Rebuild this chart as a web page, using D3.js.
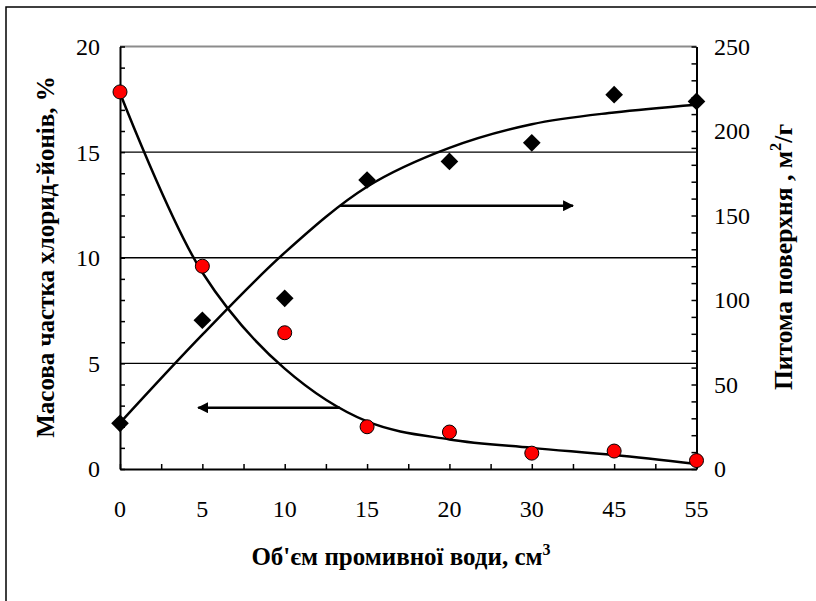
<!DOCTYPE html>
<html>
<head>
<meta charset="utf-8">
<script src="https://cdn.jsdelivr.net/npm/d3@7"></script>
<style>
  html, body { margin: 0; padding: 0; background: #fff; }
  svg { display: block; }
</style>
</head>
<body>
<svg id="chart" width="816" height="601"></svg>
<script>
// ---- data ----
const categories = ["0", "5", "10", "15", "20", "30", "45", "55"];
const chlorideValues = [17.85, 9.6, 6.45, 2.0, 1.75, 0.75, 0.85, 0.4];      // left axis, %
const surfaceValues = [27, 88, 101, 171, 182, 193, 221.5, 217.5];           // right axis, m2/g
const chlorideTrend = [17.8, 9.3, 4.75, 2.25, 1.4, 1.0, 0.66, 0.24];
const surfaceTrend = [27.3, 79.5, 128, 167, 190, 204, 211, 215.6];
const leftTicks = [0, 5, 10, 15, 20];
const rightTicks = [0, 50, 100, 150, 200, 250];
const gridValues = [5, 10, 15];
// arrows: [from index, to index, value]
const arrowLeft = [2.67, 0.95, 2.9];      // on left axis
const arrowRight = [2.67, 5.5, 155.8];    // on right axis

const leftTitle = "Масова частка хлорид-йонів, %";
const rightTitle = "Питома поверхня , м";
const xTitle = "Об'єм промивної води, см";

const FONT = "'Liberation Serif'";

// ---- layout ----
const svg = d3.select("#chart");
const L = 120, R = 696.5, T = 46.5, B = 469;

svg.append("rect").attr("x", 6).attr("y", 7).attr("width", 830).attr("height", 620)
  .attr("fill", "#fff").attr("stroke", "#000").attr("stroke-width", 1.5);

const x = d3.scalePoint().domain(categories).range([L, R]);
const xi = d3.scaleLinear().domain([0, categories.length - 1]).range([L, R]);
const yL = d3.scaleLinear().domain([0, 20]).range([B, T]);
const yR = d3.scaleLinear().domain([0, 250]).range([B, T]);

// gridlines
svg.append("g").selectAll("line").data(gridValues).join("line")
  .attr("x1", L).attr("x2", R)
  .attr("y1", d => yL(d)).attr("y2", d => yL(d))
  .attr("stroke", "#000").attr("stroke-width", 1.3);
svg.append("line").attr("x1", L).attr("x2", R).attr("y1", yL(20)).attr("y2", yL(20))
  .attr("stroke", "#8c8c8c").attr("stroke-width", 2);

// axes
const leftAxis = d3.axisLeft(yL).tickValues(d3.range(0, 21, 1)).tickSizeInner(-5).tickSizeOuter(0).tickFormat("");
const gL = svg.append("g").attr("transform", `translate(${L},0)`).call(leftAxis);
const rightAxis = d3.axisRight(yR).tickValues(d3.range(0, 251, 10)).tickSizeInner(-5).tickSizeOuter(0).tickFormat("");
const gR = svg.append("g").attr("transform", `translate(${R},0)`).call(rightAxis);
const bottomAxis = d3.axisBottom(xi).tickValues(d3.range(0, 7.01, 0.5)).tickSizeInner(-5).tickSizeOuter(0).tickFormat("");
const gB = svg.append("g").attr("transform", `translate(0,${B})`).call(bottomAxis);
[gL, gR, gB].forEach(g => {
  g.selectAll("path.domain").attr("stroke", "#000").attr("stroke-width", 2);
  g.selectAll(".tick line").attr("stroke", "#000").attr("stroke-width", 1.5);
});

// tick labels
svg.append("g").selectAll("text").data(leftTicks).join("text")
  .attr("x", 100).attr("y", d => yL(d)).attr("dy", "0.35em")
  .attr("text-anchor", "end").style("font-family", FONT).attr("font-size", 24).text(d => d);
svg.append("g").selectAll("text").data(rightTicks).join("text")
  .attr("x", 714).attr("y", d => yR(d)).attr("dy", "0.35em")
  .attr("text-anchor", "start").style("font-family", FONT).attr("font-size", 24).text(d => d);
svg.append("g").selectAll("text").data(categories).join("text")
  .attr("x", d => x(d)).attr("y", 517)
  .attr("text-anchor", "middle").style("font-family", FONT).attr("font-size", 24).text(d => d);

// trend curves
const lineL = d3.line().x((d, i) => xi(i)).y(d => yL(d)).curve(d3.curveCatmullRom.alpha(0.5));
const lineR = d3.line().x((d, i) => xi(i)).y(d => yR(d)).curve(d3.curveCatmullRom.alpha(0.5));
svg.append("path").datum(chlorideTrend).attr("d", lineL)
  .attr("fill", "none").attr("stroke", "#000").attr("stroke-width", 2.5);
svg.append("path").datum(surfaceTrend).attr("d", lineR)
  .attr("fill", "none").attr("stroke", "#000").attr("stroke-width", 2.5);

// arrows
const defs = svg.append("defs");
defs.append("marker").attr("id", "ah").attr("viewBox", "0 0 10 10")
  .attr("refX", 9).attr("refY", 5).attr("markerWidth", 4.4).attr("markerHeight", 4.4)
  .attr("markerUnits", "strokeWidth").attr("orient", "auto")
  .append("path").attr("d", "M0,0 L10,5 L0,10 Z").attr("fill", "#000");
svg.append("line")
  .attr("x1", xi(arrowLeft[0])).attr("x2", xi(arrowLeft[1]))
  .attr("y1", yL(arrowLeft[2])).attr("y2", yL(arrowLeft[2]))
  .attr("stroke", "#000").attr("stroke-width", 2.5).attr("marker-end", "url(#ah)");
svg.append("line")
  .attr("x1", xi(arrowRight[0])).attr("x2", xi(arrowRight[1]))
  .attr("y1", yR(arrowRight[2])).attr("y2", yR(arrowRight[2]))
  .attr("stroke", "#000").attr("stroke-width", 2.5).attr("marker-end", "url(#ah)");

// markers
const diamond = d3.symbol().type(d3.symbolSquare).size(156);
svg.append("g").selectAll("path").data(surfaceValues).join("path")
  .attr("d", diamond)
  .attr("transform", (d, i) => `translate(${x(categories[i])},${yR(d)}) rotate(45)`)
  .attr("fill", "#000");
svg.append("g").selectAll("circle").data(chlorideValues).join("circle")
  .attr("cx", (d, i) => x(categories[i])).attr("cy", d => yL(d)).attr("r", 7)
  .attr("fill", "#ff0000").attr("stroke", "#000").attr("stroke-width", 1);

// titles
svg.append("text").attr("transform", "translate(54,257) rotate(-90)")
  .attr("text-anchor", "middle").style("font-family", FONT).attr("font-size", 25).attr("font-weight", "bold")
  .text(leftTitle);
const tr = svg.append("text").attr("transform", "translate(792,257) rotate(-90)")
  .attr("text-anchor", "middle").style("font-family", FONT).attr("font-size", 25.5).attr("font-weight", "bold");
tr.append("tspan").text(rightTitle);
tr.append("tspan").attr("font-size", 16.5).attr("dy", -11).text("2");
tr.append("tspan").attr("dy", 11).text("/г");
const tx = svg.append("text").attr("x", 401).attr("y", 565)
  .attr("text-anchor", "middle").style("font-family", FONT).attr("font-size", 25).attr("font-weight", "bold");
tx.append("tspan").text(xTitle);
tx.append("tspan").attr("font-size", 16).attr("dy", -10).text("3");
</script>
</body>
</html>
